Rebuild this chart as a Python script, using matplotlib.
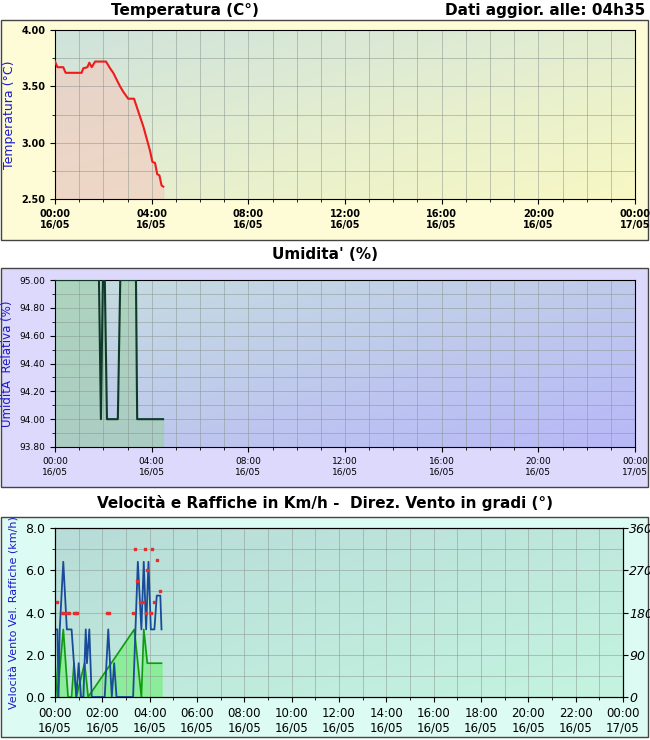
import matplotlib
matplotlib.use("Agg")
import matplotlib.pyplot as plt
import numpy as np
from matplotlib.patches import Rectangle

temp_h = [0,0.1,0.34,0.44,1.1,1.17,1.34,1.42,1.52,1.66,2.11,2.28,2.41,2.55,2.69,2.83,3.03,3.27,3.66,3.93,4.03,4.14,4.23,4.32,4.41,4.48]
temp_v = [3.72,3.67,3.67,3.62,3.62,3.66,3.67,3.71,3.67,3.72,3.72,3.66,3.62,3.56,3.50,3.45,3.39,3.39,3.14,2.93,2.83,2.82,2.72,2.71,2.62,2.61]
hum_h = [0,1.82,1.9,1.98,2.06,2.15,2.6,2.7,3.35,3.4,4.47]
hum_v = [95,95,94,95,95,94,94,95,95,94,94]
gust_h = [0.02,0.1,0.15,0.2,0.35,0.5,0.7,0.9,1.0,1.1,1.2,1.3,1.35,1.45,1.55,2.1,2.25,2.4,2.5,2.6,3.3,3.5,3.65,3.75,3.85,3.95,4.05,4.2,4.3,4.45,4.5]
gust_v = [3.2,3.2,0,3.2,6.4,3.2,3.2,0,1.6,0,0,3.2,1.6,3.2,0,0,3.2,0,1.6,0,0,6.4,3.2,6.4,3.2,6.4,3.2,3.2,4.8,4.8,3.2]
wind_h = [0,0.1,0.35,0.55,0.7,0.8,0.9,1.25,1.4,3.35,3.5,3.65,3.75,3.9,4.5]
wind_v = [1.6,0,3.2,0,0,1.6,0,1.6,0,3.2,1.6,0,3.2,1.6,1.6]
dir_h = [0.1,0.3,0.4,0.5,0.6,0.8,0.9,0.95,2.2,2.3,3.3,3.4,3.45,3.6,3.7,3.8,3.85,3.9,4.05,4.1,4.2,4.3,4.45]
dir_v = [202.5,180,180,180,180,180,180,180,180,180,180,315,247.5,202.5,202.5,315,180,270,180,315,202.5,292.5,225]

W, H = 650, 740
fig = plt.figure(figsize=(6.5, 7.4), dpi=100)

def frect(x0, y0, x1, y1):
    return [x0/W, 1-y1/H, (x1-x0)/W, (y1-y0)/H]

def panel_bg(y0, y1, color):
    r = Rectangle((1/W, 1-y1/H), (W-3)/W, (y1-y0)/H, transform=fig.transFigure,
                  facecolor=color, edgecolor='#444444', lw=1, zorder=-5)
    fig.add_artist(r)

panel_bg(20, 240, '#fdfcd6')
panel_bg(268, 487, '#dcd9fd')
panel_bg(517, 737, '#dcfbf3')

def gradient(ax, c1, c2):
    g = np.linspace(0, 1, 100)
    X, Y = np.meshgrid(g, g)
    t = (X + Y) / 2
    c1 = np.array(matplotlib.colors.to_rgb(c1)); c2 = np.array(matplotlib.colors.to_rgb(c2))
    img = c1[None, None, :]*(1-t[..., None]) + c2[None, None, :]*t[..., None]
    ax.imshow(img, extent=[0, 1, 0, 1], transform=ax.transAxes, aspect='auto', zorder=0, origin='upper')

def xfmt(ax, step, fs, bold):
    ticks = np.arange(0, 24.01, step)
    ax.set_xticks(ticks)
    ax.set_xticklabels([f"{int(t)%24:02d}:00\n{'17' if t==24 else '16'}/05" for t in ticks],
                       fontsize=fs, fontweight='bold' if bold else 'normal')
    ax.set_xticks(np.arange(0, 24.01, 1), minor=True)
    ax.grid(True, which='both', color='#8a9690', lw=0.6, alpha=0.6)
    ax.set_xlim(0, 24)

# Panel 1
ax1 = fig.add_axes(frect(55, 30, 635, 199))
gradient(ax1, '#cfe3dc', '#f8f8c4')
ax1.fill_between(temp_h, temp_v, 2.5, color='#f4c8c0', alpha=0.6, zorder=1)
ax1.plot(temp_h, temp_v, color='#ee1c1c', lw=1.5, zorder=3)
ax1.set_ylim(2.5, 4.0)
ax1.set_yticks([2.5, 3.0, 3.5, 4.0]); ax1.set_yticks(np.arange(2.5, 4.01, 0.25), minor=True)
ax1.set_yticklabels(['2.50', '3.00', '3.50', '4.00'], fontsize=7, fontweight='bold')
xfmt(ax1, 4, 7, True)
ax1.set_ylabel('Temperatura (°C)', color='#1a1acc', fontsize=9)
fig.text(185/W, 1-11/H, 'Temperatura (C°)', ha='center', va='center', fontsize=11, fontweight='bold')
fig.text(545/W, 1-11/H, 'Dati aggior. alle: 04h35', ha='center', va='center', fontsize=11, fontweight='bold')

# Panel 2
ax2 = fig.add_axes(frect(55, 280, 635, 447))
gradient(ax2, '#c6dde0', '#b8b8f8')
ax2.fill_between(hum_h, hum_v, 93.8, color='#9ecfa8', alpha=0.6, zorder=1)
ax2.plot(hum_h, hum_v, color='#0f3a2a', lw=1.5, zorder=3)
ax2.set_ylim(93.8, 95.0)
ax2.set_yticks(np.arange(93.8, 95.01, 0.2))
ax2.set_yticklabels([f"{v:.2f}" for v in np.arange(93.8, 95.01, 0.2)], fontsize=6.5)
ax2.set_yticks(np.arange(93.8, 95.01, 0.1), minor=True)
xfmt(ax2, 4, 6.5, False)
ax2.set_ylabel('UmiditÃ  Relativa (%)', color='#1a1acc', fontsize=8.5)
fig.text(325/W, 1-255/H, "Umidita' (%)", ha='center', va='center', fontsize=11, fontweight='bold')

# Panel 3
ax3 = fig.add_axes(frect(55, 528, 623, 697))
gradient(ax3, '#b8dcd8', '#c4f4e0')
ax3.fill_between(wind_h, wind_v, 0, color='#7fee8a', alpha=0.8, zorder=1)
ax3.plot(wind_h, wind_v, color='#119911', lw=1.2, zorder=3)
ax3.plot(gust_h, gust_v, color='#1a4a9a', lw=1.3, zorder=4)
ax3.set_ylim(0, 8)
ax3.set_yticks(np.arange(0, 8.01, 2)); ax3.set_yticks(np.arange(0, 8.01, 1), minor=True)
ax3.set_yticklabels([f"{v:.1f}" for v in np.arange(0, 8.01, 2)], fontsize=9)
xfmt(ax3, 2, 8.5, False)
ax3.set_ylabel('Velocità Vento Vel. Raffiche (km/h)', color='#1a1acc', fontsize=8)
ax3b = ax3.twinx()
ax3b.scatter(dir_h, dir_v, s=4, color='#e03030', marker='s', zorder=5)
ax3b.set_ylim(0, 360)
ax3b.set_yticks([0, 90, 180, 270, 360])
ax3b.set_yticklabels(['0', '90', '180', '270', '360'], fontsize=9, style='italic')
ax3b.tick_params(axis='y', pad=1)
fig.text(325/W, 1-503/H, 'Velocità e Raffiche in Km/h -  Direz. Vento in gradi (°)', ha='center', va='center',
         fontsize=11, fontweight='bold')

fig.savefig('out.png', dpi=100)
